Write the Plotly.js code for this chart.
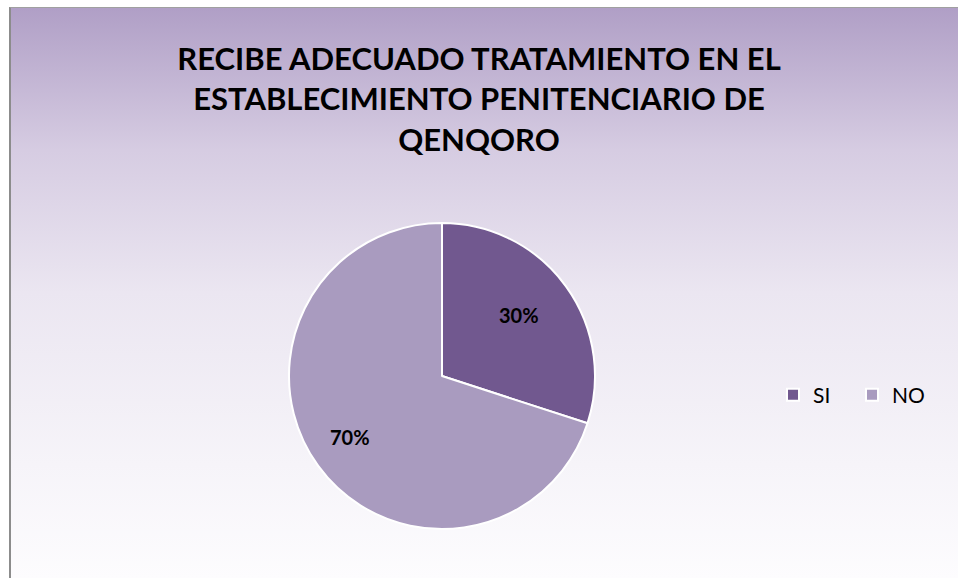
<!DOCTYPE html>
<html>
<head>
<meta charset="utf-8">
<script src="https://cdn.plot.ly/plotly-3.0.1.min.js"></script>
<style>
  html, body { margin: 0; padding: 0; background: #ffffff; }
  #bg { position: absolute; left: 9px; top: 7px; width: 949px; height: 571px;
        background: linear-gradient(to bottom, #b09fc6 0%, #d6cce2 25%, #ebe6f1 50%, #f6f4f9 80%, #fdfcfe 100%);
        border-left: 2px solid #8c8c8c; border-top: 1px solid #a0a0a0; box-sizing: border-box; }
  #plot { position: absolute; left: 0; top: 0; width: 958px; height: 578px; }
</style>
</head>
<body>
<div id="bg"></div>
<div id="plot"></div>
<script>
const categories = ["SI", "NO"];
const values = [30, 70];
const sliceColors = ["#71588f", "#a99bbf"];
const chartTitle = "RECIBE ADECUADO TRATAMIENTO EN EL<br>ESTABLECIMIENTO PENITENCIARIO DE<br>QENQORO";

const FONT = "Lato, 'Liberation Sans', sans-serif";
const dom = { x: [289/958, 595/958], y: [49/578, 355/578] };

// label positions derived from the data (mid-angle of each slice)
const total = values.reduce((a, b) => a + b, 0);
const cx = (dom.x[0] + dom.x[1]) / 2, cy = (dom.y[0] + dom.y[1]) / 2;
const rx = (dom.x[1] - dom.x[0]) / 2, ry = (dom.y[1] - dom.y[0]) / 2;
const labelR = 0.68;
let cum = 0;
const annotations = values.map((v, i) => {
  const mid = (cum + v / 2) / total * 2 * Math.PI;
  cum += v;
  return {
    xref: "paper", yref: "paper",
    x: cx + labelR * rx * Math.sin(mid) - 0.008,
    y: cy + labelR * ry * Math.cos(mid),
    text: "<b>" + Math.round(v / total * 100) + "%</b>",
    showarrow: false,
    font: { family: FONT, size: 20, color: "#000000" },
    xanchor: "center", yanchor: "middle"
  };
});

const trace = {
  type: "pie",
  labels: categories,
  values: values,
  sort: false,
  direction: "clockwise",
  rotation: 0,
  marker: { colors: sliceColors, line: { color: "#ffffff", width: 2 } },
  textinfo: "none",
  hoverinfo: "label+percent",
  domain: dom
};

const layout = {
  width: 958, height: 578,
  margin: { l: 0, r: 0, t: 0, b: 0 },
  paper_bgcolor: "rgba(0,0,0,0)",
  plot_bgcolor: "rgba(0,0,0,0)",
  title: {
    text: chartTitle,
    font: { family: FONT, size: 31, color: "#000000", weight: "bold" },
    x: 0.5, xanchor: "center",
    y: 1 - 70/578, yanchor: "top",
    xref: "paper", yref: "paper"
  },
  annotations: annotations,
  showlegend: true,
  legend: {
    orientation: "h",
    x: 773/958, xanchor: "left",
    y: 183/578, yanchor: "middle",
    font: { family: FONT, size: 21, color: "#000000" },
    bgcolor: "rgba(0,0,0,0)",
    entrywidth: 34
  }
};

Plotly.newPlot("plot", [trace], layout, { displayModeBar: false, staticPlot: true });
</script>
</body>
</html>
